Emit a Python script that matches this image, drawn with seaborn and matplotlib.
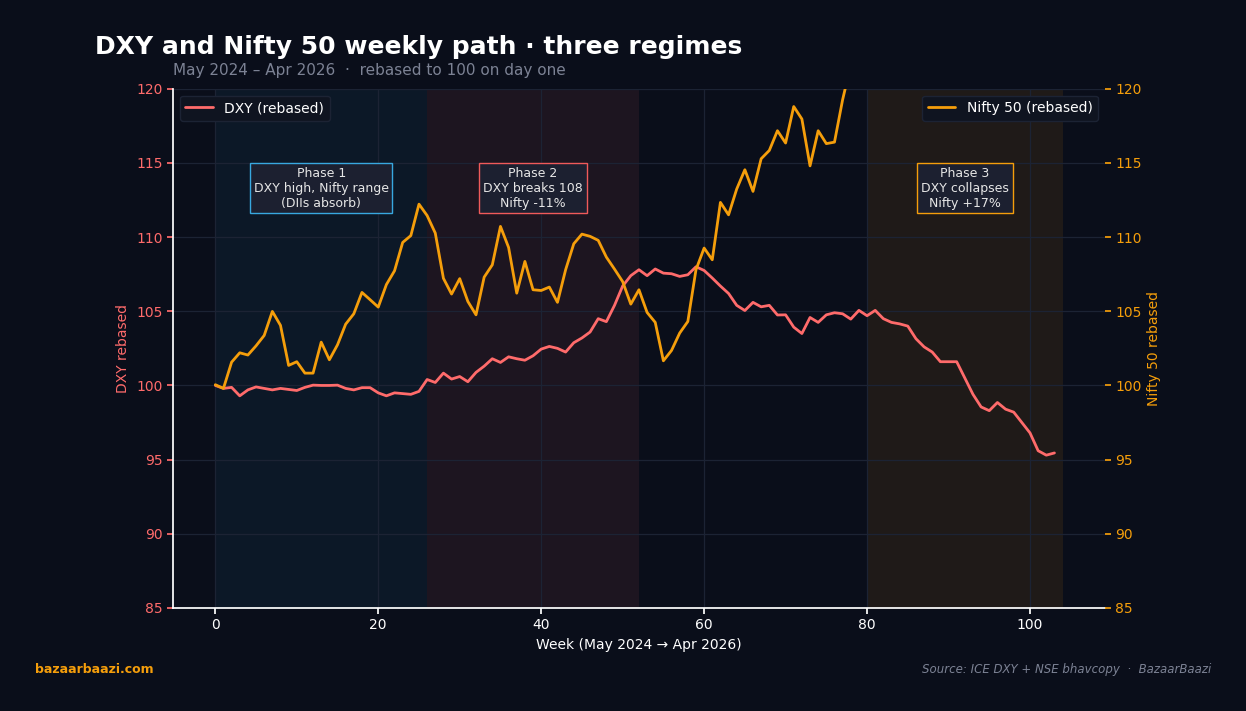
import numpy as np
import pandas as pd
import matplotlib
matplotlib.use('Agg')
import matplotlib.pyplot as plt
import seaborn as sns

# 周数据（第一周 = 100）
weeks = list(range(104))

dxy = [100.0, 99.8, 99.87, 99.3, 99.7, 99.9, 99.8, 99.7, 99.8, 99.73,
       99.66, 99.87, 100.02, 100.0, 100.0, 100.02, 99.8, 99.7, 99.85, 99.85,
       99.5, 99.3, 99.5, 99.45, 99.4, 99.6, 100.4, 100.2, 100.83, 100.43,
       100.6, 100.25, 100.88, 101.3, 101.8, 101.55, 101.93, 101.8, 101.7, 102.0,
       102.45, 102.63, 102.5, 102.25, 102.88, 103.2, 103.6, 104.5, 104.3, 105.4,
       106.7, 107.4, 107.8, 107.4, 107.85, 107.57, 107.53, 107.35, 107.46, 108.0,
       107.75, 107.24, 106.7, 106.2, 105.4, 105.05, 105.6, 105.3, 105.4, 104.75,
       104.76, 103.93, 103.5, 104.58, 104.25, 104.76, 104.9, 104.83, 104.47, 105.06,
       104.7, 105.06, 104.5, 104.25, 104.15, 104.0, 103.15, 102.6, 102.25, 101.6,
       101.6, 101.6, 100.5, 99.4, 98.55, 98.3, 98.85, 98.4, 98.2, 97.5,
       96.8, 95.6, 95.3, 95.45]

nifty = [100.05, 99.8, 101.57, 102.2, 102.05, 102.67, 103.37, 104.99, 104.05, 101.35,
         101.6, 100.83, 100.83, 102.92, 101.73, 102.74, 104.13, 104.83, 106.27, 105.78,
         105.28, 106.8, 107.73, 109.64, 110.1, 112.22, 111.45, 110.27, 107.22, 106.16,
         107.2, 105.66, 104.76, 107.3, 108.13, 110.72, 109.3, 106.22, 108.36, 106.45,
         106.4, 106.63, 105.6, 107.8, 109.55, 110.2, 110.05, 109.78, 108.65, 107.84,
         107.0, 105.48, 106.45, 104.92, 104.25, 101.66, 102.36, 103.53, 104.31, 107.8,
         109.26, 108.47, 112.34, 111.5, 113.24, 114.54, 113.08, 115.28, 115.84, 117.17,
         116.34, 118.8, 117.96, 114.8, 117.17, 116.3, 116.4, 119.26, 121.6, 122.4,
         121.9, 123.1, 122.6, 123.8, 124.5, 123.9, 125.2, 124.6, 125.8, 126.4,
         125.7, 126.9, 127.5, 126.8, 127.9, 128.4, 127.6, 128.8, 129.3, 128.7,
         129.6, 130.2, 129.8, 130.5]

phase_bounds = [(0, 26), (26, 52), (80, 104)]
phase_colors = ['#38bdf8', '#ff6b6b', '#f59e0b']
phase_alpha = [0.06, 0.08, 0.09]
phase_x = [13, 39, 92]
phase_text = ['Phase 1\nDXY high, Nifty range\n(DIIs absorb)',
              'Phase 2\nDXY breaks 108\nNifty -11%',
              'Phase 3\nDXY collapses\nNifty +17%']
phase_edge = ['#38a8e0', '#f05a5a', '#f59e0b']

df = pd.DataFrame({'week': weeks, 'dxy': dxy, 'nifty': nifty})

BG = '#0a0e1a'
RED = '#ff6b6b'
ORANGE = '#f59e0b'
GRID = '#1c2334'

sns.set_theme(style='dark')
plt.rcParams['font.family'] = ['DejaVu Sans']

fig = plt.figure(figsize=(12.46, 7.11), dpi=100, facecolor=BG)
ax = fig.add_axes([0.1388, 0.1449, 0.7480, 0.7303])
ax.set_facecolor(BG)
ax2 = ax.twinx()

for (a, b), c, al in zip(phase_bounds, phase_colors, phase_alpha):
    ax.axvspan(a, b, color=c, alpha=al, lw=0, zorder=0)

sns.lineplot(data=df, x='week', y='dxy', ax=ax, color=RED, lw=2.0, label='DXY (rebased)')
sns.lineplot(data=df, x='week', y='nifty', ax=ax2, color=ORANGE, lw=2.0, label='Nifty 50 (rebased)')

for a in (ax, ax2):
    a.set_ylim(85, 120)
    a.set_yticks([85, 90, 95, 100, 105, 110, 115, 120])
ax.set_xlim(-5.2, 109.2)
ax.set_xticks([0, 20, 40, 60, 80, 100])

ax.grid(True, color=GRID, lw=0.9)
ax2.grid(False)
for s in ['top', 'right']:
    ax.spines[s].set_visible(False)
for s in ['top', 'right', 'left', 'bottom']:
    ax2.spines[s].set_visible(False)
ax.spines['left'].set_color('white')
ax.spines['bottom'].set_color('white')

ax.tick_params(axis='y', colors=RED, labelsize=10, length=4, left=True)
ax.tick_params(axis='x', colors='white', labelsize=10, length=4, bottom=True)
ax2.tick_params(axis='y', colors=ORANGE, labelsize=10, length=4, right=True)

ax.set_xlabel('Week (May 2024 → Apr 2026)', color='white', fontsize=10)
ax.set_ylabel('DXY rebased', color=RED, fontsize=10)
ax2.set_ylabel('Nifty 50 rebased', color=ORANGE, fontsize=10)

for x, t, ec in zip(phase_x, phase_text, phase_edge):
    ax2.text(x, 113.3, t, ha='center', va='center', fontsize=9, color='#e6e6e6',
             linespacing=1.2, zorder=5,
             bbox=dict(boxstyle='square,pad=0.3', fc='#1c2030', ec=ec, lw=1.0))

leg1 = ax.legend(loc='upper left', fontsize=10, facecolor='#0f1420', edgecolor='#1c2334',
                 framealpha=1, labelcolor='white')
leg2 = ax2.legend(loc='upper right', fontsize=10, facecolor='#0f1420', edgecolor='#1c2334',
                  framealpha=1, labelcolor='white')

fig.text(0.0762, 0.934, 'DXY and Nifty 50 weekly path · three regimes', color='white',
         fontsize=18, fontweight='bold', va='center')
fig.text(0.1388, 0.901, 'May 2024 – Apr 2026  ·  rebased to 100 on day one', color='#7c8294',
         fontsize=11, va='center')
fig.text(0.028, 0.059, 'bazaarbaazi.com', color=ORANGE, fontsize=9, fontweight='bold', va='center')
fig.text(0.972, 0.059, 'Source: ICE DXY + NSE bhavcopy  ·  BazaarBaazi', color='#7c8294',
         fontsize=8.5, style='italic', ha='right', va='center')

fig.savefig('out.png', dpi=100, facecolor=BG)
